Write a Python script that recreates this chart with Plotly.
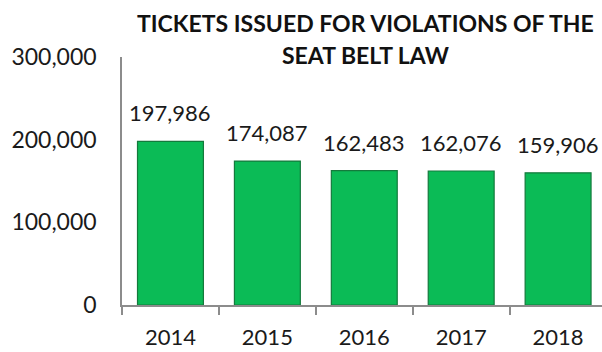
import plotly.graph_objects as go

years = ["2014", "2015", "2016", "2017", "2018"]
tickets = [197986, 174087, 162483, 162076, 159906]
y_ticks = [0, 100000, 200000, 300000]
y_tick_text = ["0", "100,000", "200,000", "300,000"]
title_lines = ["TICKETS ISSUED FOR VIOLATIONS OF THE", "SEAT BELT LAW"]

FONT = "Lato"

fig = go.Figure()
fig.add_trace(go.Bar(
    x=years,
    y=tickets,
    width=0.68,
    marker=dict(color="#0BBB56", line=dict(color="#147A3C", width=1.2)),
    hoverinfo="skip",
))

# data labels (category index positions on the x axis)
for i, v in enumerate(tickets):
    fig.add_annotation(x=i, y=v, xref="x", yref="y", text=f"{v:,}", showarrow=False,
                       xanchor="center", yanchor="bottom", yshift=13,
                       font=dict(family=FONT, size=22, color="#1a1a1a"))

# title (two lines)
for txt, yp in zip(title_lines, [1.137, 1.008]):
    fig.add_annotation(xref="paper", yref="paper", x=0.508, y=yp, text=f"<b>{txt}</b>",
                       showarrow=False, xanchor="center", yanchor="middle",
                       font=dict(family=FONT, size=23, color="#111111"))

fig.update_layout(
    width=602, height=352,
    margin=dict(l=122, r=0, t=57, b=47),
    paper_bgcolor="white", plot_bgcolor="white",
    showlegend=False,
    xaxis=dict(
        type="category", range=[-0.5, 4.453],
        showline=True, linecolor="#8c8c8c", linewidth=1.5,
        ticks="outside", tickson="boundaries", ticklen=8, tickcolor="#8c8c8c", tickwidth=1.5,
        tickfont=dict(family=FONT, size=22, color="#1a1a1a"),
        ticklabelstandoff=12,
        showgrid=False,
    ),
    yaxis=dict(
        range=[0, 300000], tickvals=y_ticks, ticktext=y_tick_text,
        showline=True, linecolor="#8c8c8c", linewidth=1.5,
        ticks="", ticklabelstandoff=19,
        tickfont=dict(family=FONT, size=23, color="#1a1a1a"),
        showgrid=False, zeroline=False,
    ),
)

fig.write_html("out.html", config={"displayModeBar": False},
               post_script="document.body.style.margin='0';")
